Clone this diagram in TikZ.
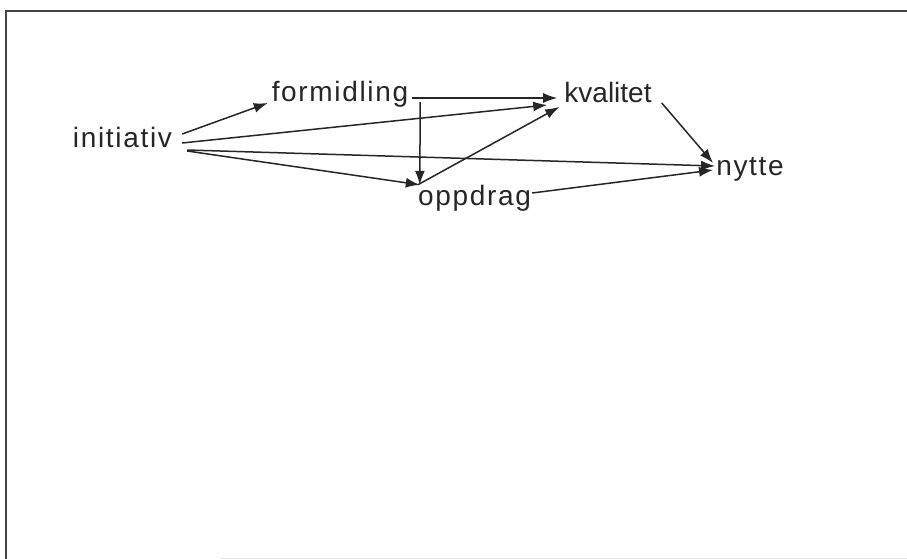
\documentclass[tikz,border=0pt]{standalone}
\usepackage{fontspec}
\setmainfont{Liberation Sans}
\newfontfamily\lblfont{Liberation Sans}[LetterSpace=6]
\newfontfamily\lbltight{Liberation Sans}
\usetikzlibrary{arrows.meta}
\definecolor{ink}{HTML}{262626}
\definecolor{frame}{HTML}{444444}
\tikzset{
  term/.style={inner sep=0pt, anchor=base, align=center,
    text height=20pt, text depth=6pt, text=ink,
    font=\lblfont\fontsize{28}{32}\selectfont},
  tight/.style={font=\lbltight\fontsize{28}{32}\selectfont},
  link/.style={draw=ink, line width=1.5pt,
    -{Latex[length=14pt,width=10pt]}}
}
\begin{document}
\begin{tikzpicture}[x=1pt, y=-1pt]
  \useasboundingbox (0,0) rectangle (907,559);
  \fill[white] (0,0) rectangle (907,559);

  % open frame
  \draw[frame, line width=2pt] (5.5,559) -- (5.5,11.5) -- (907,11.5);
  \draw[gray!22, line width=1pt] (220,558) -- (907,558);

  % terms
  \node[term, minimum width=101pt] (init) at (122.5,147) {initiativ};
  \node[term, minimum width=140pt] (form) at (340,102) {formidling};
  \node[term, tight, minimum width=85pt] (kval) at (608,103) {kvalitet};
  \node[term, minimum width=64pt]  (nyt)  at (750,175) {nytte};
  \node[term, minimum width=115pt] (oppd) at (474.5,205) {oppdrag};

  % links
  \draw[link] ([shift={(9,-13)}]init.base east) -- ([shift={(-2,1)}]form.base west);
  \draw[link] ([shift={(9,-4)}]init.base east)  -- ([shift={(-17,2)}]kval.base west);
  \draw[link] ([shift={(14,3)}]init.base east)  -- ([shift={(-1,-9)}]nyt.base west);
  \draw[link] ([shift={(14,4)}]init.base east)  -- ([shift={(3,0)}]oppd.north west);
  \draw[link] ([shift={(2,-4)}]form.base east)  -- ([shift={(-7,-5)}]kval.base west);
  \draw[link] ([shift={(10,0)}]form.base east)  -- ([shift={(3,0)}]oppd.north west);
  \draw[link] ([shift={(1,0)}]oppd.north west)  -- ([shift={(-5,4)}]kval.base west);
  \draw[link] ([shift={(10,0)}]kval.base east)  -- ([shift={(-3,-12)}]nyt.base west);
  \draw[link] ([shift={(0,-12)}]oppd.base east) -- ([shift={(-3,-5)}]nyt.base west);
\end{tikzpicture}
\end{document}
